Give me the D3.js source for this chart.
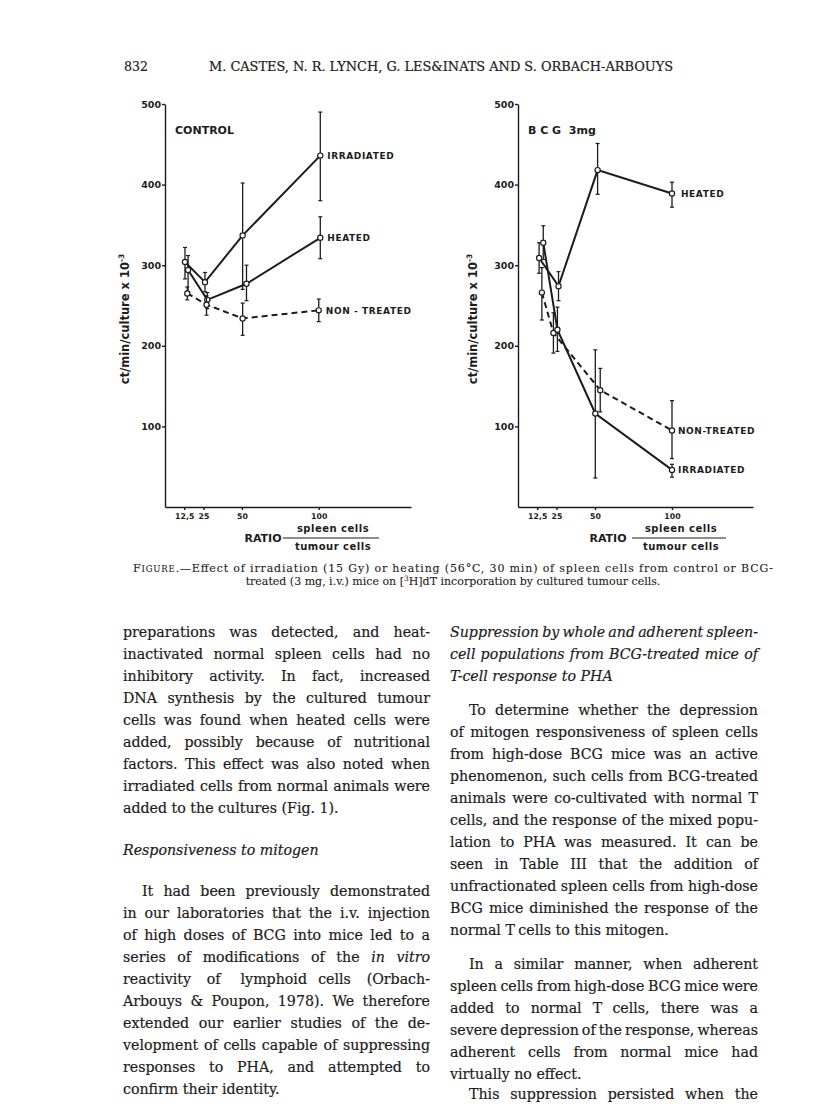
<!DOCTYPE html>
<html>
<head>
<meta charset="utf-8">
<script src="https://cdn.jsdelivr.net/npm/d3@7"></script>
<style>
  body { margin: 0; background: #fff; }
  svg { display: block; }
  .lbl { font-family: "DejaVu Sans", sans-serif; font-weight: bold; fill: #1c1c1c; }
  .body { font-family: "DejaVu Serif", serif; font-size: 14.2px; fill: #1c1c1c; stroke: #1c1c1c; stroke-width: 0.2; }
  .axis path, .axis line { stroke: #1c1c1c; stroke-width: 1.4; }
  .axis text { font-family: "DejaVu Sans", sans-serif; font-weight: bold; fill: #1c1c1c; }
</style>
</head>
<body>
<svg id="page" width="816" height="1104"></svg>
<script>
// -----------------------------
// DATA (ct/min/culture x 10^-3)
// -----------------------------
const xTickValues = [12.5, 25, 50, 100];
const xTickLabels = ["12,5", "25", "50", "100"];
const yTickValues = [100, 200, 300, 400, 500];

// x is slightly shifted in the original so the bars don't overlap
const controlIrradiated = [
  {x: 13, y: 304, lo: 283, hi: 322},
  {x: 26, y: 279, lo: 267, hi: 291},
  {x: 50.5, y: 337, lo: 270, hi: 402},
  {x: 101, y: 436, lo: 380, hi: 490}
];
const controlHeated = [
  {x: 15, y: 294, lo: 267, hi: 312},
  {x: 27.5, y: 257, lo: 246, hi: 266},
  {x: 53, y: 277, lo: 256, hi: 300},
  {x: 101, y: 334, lo: 308, hi: 360}
];
const controlNonTreated = [
  {x: 14.5, y: 265, lo: 257, hi: 273},
  {x: 27, y: 251, lo: 238, hi: 262},
  {x: 50.5, y: 234, lo: 213, hi: 253},
  {x: 100, y: 244, lo: 230, hi: 258}
];

const bcgHeated = [
  {x: 13.7, y: 309, lo: 290, hi: 328},
  {x: 26.3, y: 274, lo: 256, hi: 292},
  {x: 51.7, y: 418, lo: 388, hi: 451},
  {x: 100, y: 389, lo: 372, hi: 403}
];
const bcgIrradiated = [
  {x: 16.4, y: 328, lo: 307, hi: 349},
  {x: 25.6, y: 220, lo: 193, hi: 248},
  {x: 50.2, y: 116, lo: 36, hi: 195},
  {x: 100, y: 46, lo: 37, hi: 53}
];
const bcgNonTreated = [
  {x: 15.5, y: 266, lo: 232, hi: 297},
  {x: 23, y: 216, lo: 191, hi: 241},
  {x: 53.4, y: 145, lo: 118, hi: 172},
  {x: 100, y: 95, lo: 60, hi: 132}
];

// page text
const headerNumber = "832";
const headerTitle = "M. CASTES, N. R. LYNCH, G. LES&INATS AND S. ORBACH-ARBOUYS";

const leftColumn = [
  {t: "preparations was detected, and heat-", j: 1},
  {t: "inactivated normal spleen cells had no", j: 1},
  {t: "inhibitory activity. In fact, increased", j: 1},
  {t: "DNA synthesis by the cultured tumour", j: 1},
  {t: "cells was found when heated cells were", j: 1},
  {t: "added, possibly because of nutritional", j: 1},
  {t: "factors. This effect was also noted when", j: 1},
  {t: "irradiated cells from normal animals were", j: 1},
  {t: "added to the cultures (Fig. 1).", j: 0},
  {t: "Responsiveness to mitogen", j: 0, it: 1, gap: 20},
  {t: "It had been previously demonstrated", j: 1, ind: 1, gap: 19},
  {t: "in our laboratories that the i.v. injection", j: 1},
  {t: "of high doses of BCG into mice led to a", j: 1},
  {t: "series of modifications of the _in _vitro", j: 1},
  {t: "reactivity of lymphoid cells (Orbach-", j: 1},
  {t: "Arbouys & Poupon, 1978). We therefore", j: 1},
  {t: "extended our earlier studies of the de-", j: 1},
  {t: "velopment of cells capable of suppressing", j: 1},
  {t: "responses to PHA, and attempted to", j: 1},
  {t: "confirm their identity.", j: 0}
];

const rightColumn = [
  {t: "Suppression by whole and adherent spleen-", j: 1, it: 1},
  {t: "cell populations from BCG-treated mice of", j: 1, it: 1},
  {t: "T-cell response to PHA", j: 0, it: 1},
  {t: "To determine whether the depression", j: 1, ind: 1, gap: 12},
  {t: "of mitogen responsiveness of spleen cells", j: 1},
  {t: "from high-dose BCG mice was an active", j: 1},
  {t: "phenomenon, such cells from BCG-treated", j: 1},
  {t: "animals were co-cultivated with normal T", j: 1},
  {t: "cells, and the response of the mixed popu-", j: 1},
  {t: "lation to PHA was measured. It can be", j: 1},
  {t: "seen in Table III that the addition of", j: 1},
  {t: "unfractionated spleen cells from high-dose", j: 1},
  {t: "BCG mice diminished the response of the", j: 1},
  {t: "normal T cells to this mitogen.", j: 0},
  {t: "In a similar manner, when adherent", j: 1, ind: 1, gap: 12},
  {t: "spleen cells from high-dose BCG mice were", j: 1},
  {t: "added to normal T cells, there was a", j: 1},
  {t: "severe depression of the response, whereas", j: 1},
  {t: "adherent cells from normal mice had", j: 1},
  {t: "virtually no effect.", j: 0},
  {t: "This suppression persisted when the", j: 1, ind: 1, gap: -2}
];

// -----------------------------
// SETUP
// -----------------------------
const svg = d3.select("#page");
svg.append("rect").attr("width", 816).attr("height", 1104).attr("fill", "#fff");

const ink = "#1c1c1c";

// -----------------------------
// PANELS
// -----------------------------
function drawPanel(p) {
  let x = d3.scaleLinear().domain([0, p.xMax]).range([p.left, p.right]);
  let y = d3.scaleLinear().domain([0, 500]).range([p.bottom, p.top]);

  let g = svg.append("g");

  g.append("g")
   .attr("class", "axis")
   .attr("transform", `translate(${p.left},0)`)
   .call(d3.axisLeft(y).tickValues(yTickValues).tickSize(3).tickSizeOuter(0).tickPadding(1))
   .call(a => a.selectAll("text").style("font-size", "9.5px"));

  g.append("g")
   .attr("class", "axis")
   .attr("transform", `translate(0,${p.bottom})`)
   .call(d3.axisBottom(x).tickValues(xTickValues)
           .tickFormat((d, i) => xTickLabels[i])
           .tickSize(3).tickSizeOuter(0).tickPadding(3))
   .call(a => a.selectAll("text").style("font-size", "7.8px"));

  let line = d3.line().x(d => x(d.x)).y(d => y(d.y));

  p.series.forEach(s => {
    g.append("path")
     .datum(s.data)
     .attr("d", line)
     .attr("fill", "none")
     .attr("stroke", ink)
     .attr("stroke-width", 2)
     .attr("stroke-dasharray", s.dashed ? "6,4" : null);

    // error bars
    let eb = g.selectAll(null).data(s.data).enter().append("g");
    eb.append("line")
      .attr("x1", d => x(d.x)).attr("x2", d => x(d.x))
      .attr("y1", d => y(d.lo)).attr("y2", d => y(d.hi))
      .attr("stroke", ink).attr("stroke-width", 1.3);
    eb.selectAll(null).data(d => [[d.x, d.lo], [d.x, d.hi]]).enter()
      .append("line")
      .attr("x1", d => x(d[0]) - 2).attr("x2", d => x(d[0]) + 2)
      .attr("y1", d => y(d[1])).attr("y2", d => y(d[1]))
      .attr("stroke", ink).attr("stroke-width", 1.2);

    g.selectAll(null).data(s.data).enter()
     .append("circle")
     .attr("cx", d => x(d.x))
     .attr("cy", d => y(d.y))
     .attr("r", 2.6)
     .attr("fill", "#fff")
     .attr("stroke", ink)
     .attr("stroke-width", 1.2);

    let last = s.data[s.data.length - 1];
    g.append("text")
     .attr("class", "lbl")
     .attr("x", x(last.x) + s.dx)
     .attr("y", y(last.y) + 3.5)
     .style("font-size", "9px")
     .style("letter-spacing", "0.6px")
     .text(s.name);
  });

  g.append("text")
   .attr("class", "lbl")
   .attr("x", p.left + 10)
   .attr("y", 134)
   .style("font-size", "11px")
   .style("white-space", "pre")
   .text(p.title);

  // y title
  let yt = g.append("text")
   .attr("class", "lbl")
   .attr("transform", `translate(${p.yTitleX},319) rotate(-90)`)
   .attr("text-anchor", "middle")
   .style("font-size", "11.5px");
  yt.append("tspan").text("ct/min/culture x 10");
  yt.append("tspan").attr("dy", -5).style("font-size", "7.5px").text("-3");

  // ratio label
  g.append("text").attr("class", "lbl")
   .attr("x", p.ratioX).attr("y", p.bottom + 35)
   .attr("text-anchor", "middle").style("font-size", "11px")
   .text("RATIO");
  g.append("line")
   .attr("x1", p.fracX0).attr("x2", p.fracX1)
   .attr("y1", p.bottom + 31).attr("y2", p.bottom + 31)
   .attr("stroke", ink).attr("stroke-width", 1.2);
  g.append("text").attr("class", "lbl")
   .attr("x", (p.fracX0 + p.fracX1) / 2 + 2).attr("y", p.bottom + 25)
   .attr("text-anchor", "middle").style("font-size", "10px")
   .style("letter-spacing", "0.5px")
   .text("spleen cells");
  g.append("text").attr("class", "lbl")
   .attr("x", (p.fracX0 + p.fracX1) / 2 + 2).attr("y", p.bottom + 43)
   .attr("text-anchor", "middle").style("font-size", "10px")
   .style("letter-spacing", "0.5px")
   .text("tumour cells");
}

drawPanel({
  left: 165, right: 411, top: 104, bottom: 507, xMax: 160,
  title: "CONTROL", yTitleX: 129, ratioX: 263, fracX0: 283, fracX1: 379,
  series: [
    {name: "IRRADIATED", data: controlIrradiated, dashed: false, dx: 7},
    {name: "HEATED", data: controlHeated, dashed: false, dx: 7},
    {name: "NON - TREATED", data: controlNonTreated, dashed: true, dx: 7}
  ]
});

drawPanel({
  left: 518, right: 753, top: 104, bottom: 507, xMax: 152.6,
  title: "B C G  3mg", yTitleX: 477, ratioX: 608, fracX0: 632, fracX1: 726,
  series: [
    {name: "HEATED", data: bcgHeated, dashed: false, dx: 9},
    {name: "NON-TREATED", data: bcgNonTreated, dashed: true, dx: 6},
    {name: "IRRADIATED", data: bcgIrradiated, dashed: false, dx: 6}
  ]
});

// -----------------------------
// HEADER + CAPTION
// -----------------------------
svg.append("text").attr("class", "body").attr("x", 124).attr("y", 71)
   .style("font-size", "12.5px").text(headerNumber);
svg.append("text").attr("class", "body").attr("x", 209).attr("y", 71)
   .style("font-size", "12px")
   .attr("textLength", 464).attr("lengthAdjust", "spacingAndGlyphs")
   .text(headerTitle);

let cap1 = svg.append("text").attr("class", "body").attr("x", 133).attr("y", 572)
   .style("font-size", "11px").style("stroke-width", 0.1)
   .attr("textLength", 640).attr("lengthAdjust", "spacing");
cap1.append("tspan").text("F");
cap1.append("tspan").style("font-size", "8.5px").text("IGURE");
cap1.append("tspan").text(".\u2014Effect of irradiation (15 Gy) or heating (56\u00B0C, 30 min) of spleen cells from control or BCG-");

let cap2 = svg.append("text").attr("class", "body").attr("x", 453).attr("y", 585)
   .attr("text-anchor", "middle").style("font-size", "11px").style("stroke-width", 0.1);
cap2.append("tspan").text("treated (3 mg, i.v.) mice on [");
cap2.append("tspan").attr("dy", -4).style("font-size", "7.5px").text("3");
cap2.append("tspan").attr("dy", 4).text("H]dT incorporation by cultured tumour cells.");

// -----------------------------
// BODY TEXT (two justified columns)
// -----------------------------
function writeColumn(lines, x0, width, y0) {
  let y = y0;
  lines.forEach((ln, k) => {
    if (k > 0) y += 22 + (ln.gap || 0);
    let t = svg.append("text").attr("class", "body").attr("y", y);
    if (ln.it) t.style("font-style", "italic");
    let words = ln.t.split(" ");
    let spans = words.map(w => {
      let s = t.append("tspan").text(w.replace(/^_/, ""));
      if (w.startsWith("_")) s.style("font-style", "italic");
      return s;
    });
    let widths = spans.map(s => s.node().getComputedTextLength());
    let start = x0 + (ln.ind ? 19 : 0);
    let gap = 4.5;
    if (ln.j && words.length > 1) gap = (x0 + width - start - d3.sum(widths)) / (words.length - 1);
    let cx = start;
    spans.forEach((s, i) => { s.attr("x", cx); cx += widths[i] + gap; });
  });
}

writeColumn(leftColumn, 123, 307, 637);
writeColumn(rightColumn, 450, 308, 637);
</script>
</body>
</html>
